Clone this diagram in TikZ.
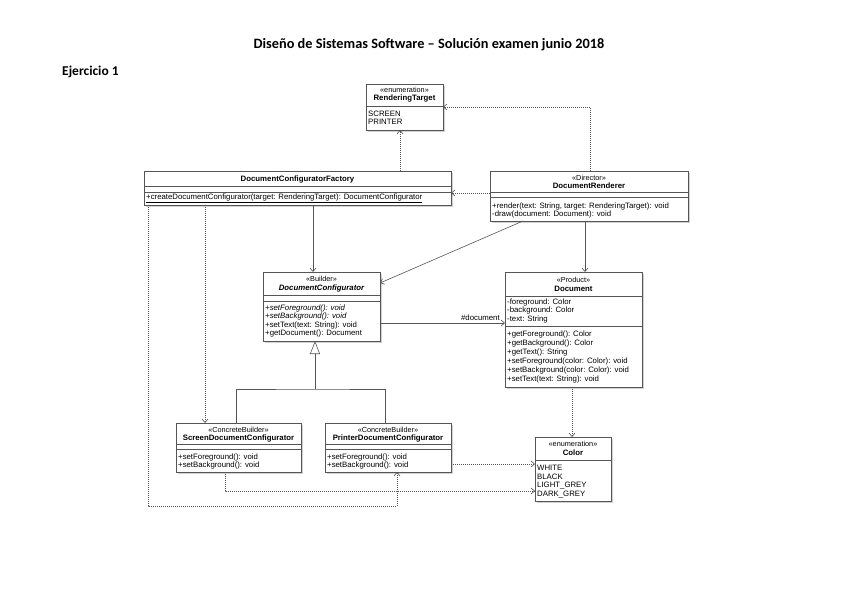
\documentclass[tikz,border=0pt]{standalone}
\usepackage{fontspec}
\newfontfamily\umlfont{Liberation Sans}
\newfontfamily\titlefont{Carlito}
\usetikzlibrary{arrows.meta,shadows}
\definecolor{lc}{HTML}{555555}
\tikzset{
 cls/.style={draw=lc, line width=0.6pt, fill=white, drop shadow={shadow xshift=1.8pt, shadow yshift=-1.8pt, fill=black!35, opacity=0.5}, anchor=north west, inner sep=0pt, outer sep=0pt},
 txt/.style={font=\umlfont\fontsize{7.8}{9}\selectfont, inner sep=0pt, anchor=west},
 ctxt/.style={font=\umlfont\bfseries\fontsize{7.8}{9}\selectfont, inner sep=0pt},
 ster/.style={font=\umlfont\fontsize{7.3}{8}\selectfont, inner sep=0pt},
 sepl/.style={draw=lc, line width=0.6pt},
 dep/.style={draw=lc, line width=0.6pt, dash pattern=on 1pt off 1pt, -{Straight Barb[length=3.5pt,width=6pt]}},
 assoc/.style={draw=lc, line width=0.6pt, -{Straight Barb[length=3.5pt,width=6pt]}},
 genl/.style={draw=lc, line width=0.6pt},
}
\begin{document}
\begin{tikzpicture}[x=1pt,y=-1pt]
\useasboundingbox (0,0) rectangle (848,599);
\node[font=\titlefont\bfseries\fontsize{14.3}{16}\selectfont, inner sep=0pt] (title) at (429,45) {Diseño de Sistemas Software – Solución examen junio 2018};
\node[font=\titlefont\bfseries\fontsize{13.5}{15}\selectfont, inner sep=0pt, anchor=west] (ej) at (62,72) {Ejercicio 1};

% RenderingTarget
\node[cls, minimum width=77pt, minimum height=46pt] (rt) at (366,84) {};
\node[ster] (rt-s) at (404.5,90) {«enumeration»};
\node[ctxt] (rt-n) at (404.5,99) {RenderingTarget};
\draw[sepl] (366,106.5) -- (443,106.5);
\node[txt] (rt-1) at (368,114) {SCREEN};
\node[txt] (rt-2) at (368,122) {PRINTER};

% DocumentConfiguratorFactory
\node[cls, minimum width=307pt, minimum height=34pt] (fac) at (144,171) {};
\node[ctxt] (fac-n) at (297.5,179) {DocumentConfiguratorFactory};
\draw[sepl] (144,186.5) -- (451,186.5);
\draw[sepl] (144,192) -- (451,192);
\node[txt] (fac-1) at (146,198.5) {\underline{+createDocumentConfigurator(target: RenderingTarget): DocumentConfigurator}};

% DocumentRenderer
\node[cls, minimum width=198pt, minimum height=50pt] (ren) at (490,171) {};
\node[ster] (ren-s) at (589,178) {«Director»};
\node[ctxt] (ren-n) at (589,186) {DocumentRenderer};
\draw[sepl] (490,192.5) -- (688,192.5);
\draw[sepl] (490,197.5) -- (688,197.5);
\node[txt] (ren-1) at (492,206) {+render(text: String, target: RenderingTarget): void};
\node[txt] (ren-2) at (492,214) {-draw(document: Document): void};

% DocumentConfigurator
\node[cls, minimum width=117pt, minimum height=69pt] (dc) at (263,272) {};
\node[ster] (dc-s) at (321.5,279) {«Builder»};
\node[ctxt] (dc-n) at (321.5,288) {\itshape DocumentConfigurator};
\draw[sepl] (263,295.5) -- (380,295.5);
\draw[sepl] (263,301) -- (380,301);
\node[txt] (dc-1) at (265,308) {\itshape +setForeground(): void};
\node[txt] (dc-2) at (265,316.5) {\itshape +setBackground(): void};
\node[txt] (dc-3) at (265,325) {+setText(text: String): void};
\node[txt] (dc-4) at (265,333.5) {+getDocument(): Document};

% Document
\node[cls, minimum width=137pt, minimum height=115pt] (doc) at (505,272) {};
\node[ster] (doc-s) at (573.5,280) {«Product»};
\node[ctxt] (doc-n) at (573.5,289) {Document};
\draw[sepl] (505,296) -- (642,296);
\node[txt] (doc-a1) at (507,302) {-foreground: Color};
\node[txt] (doc-a2) at (507,310.5) {-background: Color};
\node[txt] (doc-a3) at (507,319) {-text: String};
\draw[sepl] (505,326) -- (642,326);
\node[txt] (doc-1) at (507,334) {+getForeground(): Color};
\node[txt] (doc-2) at (507,343) {+getBackground(): Color};
\node[txt] (doc-3) at (507,352) {+getText(): String};
\node[txt] (doc-4) at (507,361) {+setForeground(color: Color): void};
\node[txt] (doc-5) at (507,370) {+setBackground(color: Color): void};
\node[txt] (doc-6) at (507,379) {+setText(text: String): void};

% ScreenDocumentConfigurator
\node[cls, minimum width=125pt, minimum height=49pt] (scr) at (176,423) {};
\node[ster] (scr-s) at (238.5,430) {«ConcreteBuilder»};
\node[ctxt] (scr-n) at (238.5,438.5) {ScreenDocumentConfigurator};
\draw[sepl] (176,444.5) -- (301,444.5);
\draw[sepl] (176,449.5) -- (301,449.5);
\node[txt] (scr-1) at (178,457.5) {+setForeground(): void};
\node[txt] (scr-2) at (178,465.5) {+setBackground(): void};

% PrinterDocumentConfigurator
\node[cls, minimum width=126pt, minimum height=49pt] (prn) at (325,423) {};
\node[ster] (prn-s) at (388,430) {«ConcreteBuilder»};
\node[ctxt] (prn-n) at (388,438.5) {PrinterDocumentConfigurator};
\draw[sepl] (325,444.5) -- (451,444.5);
\draw[sepl] (325,449.5) -- (451,449.5);
\node[txt] (prn-1) at (327,457.5) {+setForeground(): void};
\node[txt] (prn-2) at (327,465.5) {+setBackground(): void};

% Color
\node[cls, minimum width=76pt, minimum height=64pt] (col) at (535,437) {};
\node[ster] (col-s) at (573,444) {«enumeration»};
\node[ctxt] (col-n) at (573,453) {Color};
\draw[sepl] (535,460) -- (611,460);
\node[txt] (col-1) at (537,467.5) {WHITE};
\node[txt] (col-2) at (537,476.5) {BLACK};
\node[txt] (col-3) at (537,485.5) {LIGHT\_GREY};
\node[txt] (col-4) at (537,494.5) {DARK\_GREY};

% connectors
\draw[dep] ([xshift=256pt]fac.north west) -- ([xshift=34pt]rt.south west);
\draw[dep] ([xshift=100pt]ren.north west) |- ([yshift=-23pt]rt.north east);
\draw[dep] ([yshift=-22pt]ren.north west) -- ([yshift=-22pt]fac.north east);
\draw[assoc] ([xshift=169pt]fac.south west) -- ([xshift=50pt]dc.north west);
\draw[assoc] ([xshift=33pt]ren.south west) -- ([yshift=-11pt]dc.north east);
\draw[assoc] ([xshift=95pt]ren.south west) -- ([xshift=80pt]doc.north west);
\draw[assoc] ([yshift=-51pt]dc.north east) -- ([yshift=-51pt]doc.north west)
  node[pos=1, anchor=south east, xshift=-5pt, yshift=2pt, font=\umlfont\fontsize{7.8}{9}\selectfont, inner sep=0pt] (lbl) {\#document};
\coordinate (gj) at (315,389);
\draw[genl] ([xshift=60pt]scr.north west) |- (gj) -| ([xshift=60pt]prn.north west);
\draw[genl, -{Triangle[open, length=13pt, width=10pt, fill=white]}] (gj) -- ([xshift=52pt]dc.south west);
\draw[dep] ([xshift=61pt]fac.south west) -- ([xshift=29pt]scr.north west);
\draw[dep] ([xshift=4pt]fac.south west) -- ++(0,301) -| ([xshift=72pt]prn.south west);
\draw[dep] ([xshift=49pt]scr.south west) |- ([yshift=-54pt]col.north west);
\draw[dep] ([yshift=-41pt]prn.north east) -- ([yshift=-27pt]col.north west);
\draw[dep] ([xshift=67pt]doc.south west) -- ([xshift=37pt]col.north west);
\end{tikzpicture}
\end{document}
